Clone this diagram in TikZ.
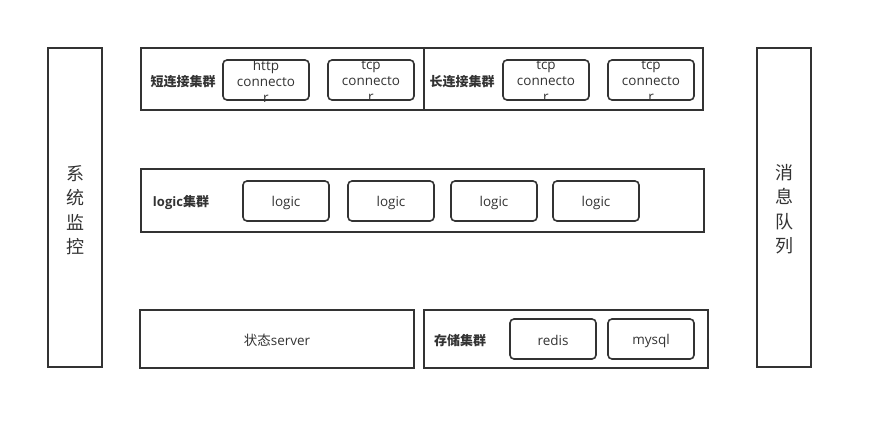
\documentclass[tikz,border=0pt]{standalone}
\usepackage{fontspec}
\setmainfont{Open Sans}
\newfontfamily\cjk{Noto Sans CJK SC}
\usetikzlibrary{positioning}
\definecolor{linegray}{HTML}{333333}
\tikzset{
  frame/.style={draw=linegray, line width=1.6pt},
  unit/.style={draw=linegray, line width=1.6pt, rounded corners=4pt,
    minimum width=86pt, minimum height=40pt, inner sep=0pt},
  unittext/.style={align=center, inner sep=0pt, yshift=-1.5pt,
    font=\fontsize{13.5}{16}\selectfont, text=linegray},
  grouplabel/.style={font=\fontsize{13}{16}\selectfont\bfseries, text=linegray,
    inner sep=0pt, yshift=-1.5pt},
  sidelabel/.style={align=center, font=\cjk\fontsize{18}{24.5}\selectfont, text=linegray, inner sep=0pt},
}
\begin{document}
\begin{tikzpicture}[x=1pt,y=-1pt]
\useasboundingbox (0,0) rectangle (873,429);

% side columns
\draw [frame] (48,48) rectangle (102,367);
\draw [frame] (757,48) rectangle (811,367);
\node [sidelabel] (mon) at (75,210) {系\\统\\监\\控};
\node [sidelabel] (mq) at (784,209) {消\\息\\队\\列};

% connector layer
\draw [frame] (141,48) rectangle (424,110);
\draw [frame] (424,48) rectangle (703,110);
\node [grouplabel] (short) at (183,80) {\cjk 短连接集群};
\node [grouplabel] (long) at (462,80) {\cjk 长连接集群};
\node [unit, label={[unittext]center:http\\connecto\\r}] (c1) at (266,80) {};
\node [unit, label={[unittext]center:tcp\\connecto\\r}] (c2) at (371,80) {};
\node [unit, label={[unittext]center:tcp\\connecto\\r}] (c3) at (546,80) {};
\node [unit, label={[unittext]center:tcp\\connecto\\r}] (c4) at (651,80) {};

% logic layer
\draw [frame] (141,169) rectangle (704,232);
\node [grouplabel] (logicgrp) at (181,201) {logic{\cjk 集群}};
\node [unit, label={[unittext]center:logic}] (l1) at (286,201) {};
\node [unit, label={[unittext]center:logic}] (l2) at (391,201) {};
\node [unit, label={[unittext]center:logic}] (l3) at (494,201) {};
\node [unit, label={[unittext]center:logic}] (l4) at (596,201) {};

% storage layer
\draw [frame] (140,310) rectangle (414,368);
\node [unittext] (state) at (277,339) {{\cjk 状态}server};
\draw [frame] (424,310) rectangle (708,368);
\node [grouplabel] (store) at (460,339) {\cjk 存储集群};
\node [unit, label={[unittext]center:redis}] (redis) at (553,339) {};
\node [unit, label={[unittext]center:mysql}] (mysql) at (651,339) {};
\end{tikzpicture}
\end{document}
